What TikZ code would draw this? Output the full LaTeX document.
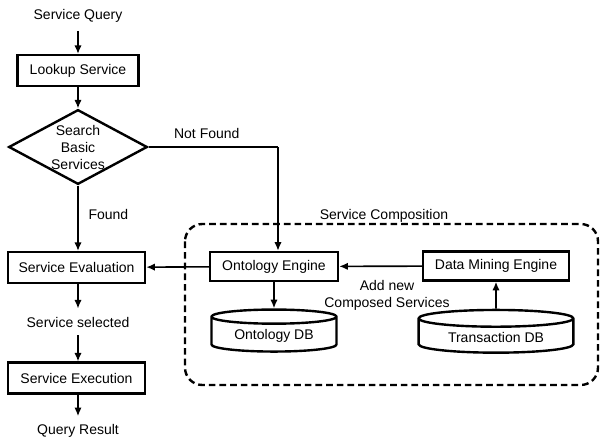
\documentclass[tikz,border=0pt]{standalone}
\usepackage{fontspec}
\setmainfont{Liberation Sans}
\usetikzlibrary{shapes.geometric}
\usetikzlibrary{arrows.meta}

\begin{document}
\begin{tikzpicture}[x=0.75pt, y=-0.75pt,
        every node/.style={font=\fontsize{10.5}{12.75}\selectfont},
        box/.style={draw, line width=1.8pt, minimum height=23pt},
        db/.style={cylinder, shape border rotate=90, draw, line width=1.8pt, aspect=0.16},
        txt/.style={inner sep=6pt},
        arr/.style={-{Latex[length=6.5pt, width=5.5pt]}, line width=1.2pt}]
        \useasboundingbox (0,0) rectangle (601,439);

        % main flow
        \node[txt] (q) at (78,16) {Service Query};
        \node[box, minimum width=90.75pt] (ls) at (78,70.5) {Lookup Service};
        \node[draw, diamond, line width=1.8pt, aspect=1.85, inner sep=0pt, align=center,
              minimum width=104pt, minimum height=56pt] (sbs) at (78,147) {Search\\Basic\\Services};
        \node[box, minimum width=102.75pt] (se) at (76.5,267.5) {Service Evaluation};
        \node[txt] (sel) at (78,322) {Service selected};
        \node[box, minimum width=102.75pt] (sx) at (76.5,378) {Service Execution};
        \node[txt] (qr) at (78,431) {Query Result};

        % service composition
        \draw[line width=1.8pt, dash pattern=on 5pt off 3pt, rounded corners=13pt] (185,224) rectangle (598,385);
        \node (sc) at (384,216) {Service Composition};
        \node[box, minimum width=96pt, minimum height=21.75pt] (oe) at (274,266.5) {Ontology Engine};
        \node[box, minimum width=109.5pt, minimum height=21.75pt] (dme) at (496,266) {Data Mining Engine};
        \node[db, minimum width=93.75pt, minimum height=31.5pt] (odb) at (274,336) {Ontology DB};
        \node[db, minimum width=116pt, minimum height=31pt] (tdb) at (496,337.5) {Transaction DB};
        \node[align=center] (anc) at (387,295) {Add new\\Composed Services};

        \coordinate (nf) at (278,147);

        \draw[arr] (q) -- (ls);
        \draw[arr] (ls) -- (sbs);
        \draw[arr] (sbs) -- (se.north -| sbs) node[pos=0.45, right=4pt] {Found};
        \draw[line width=1.2pt] (sbs.east) -- (nf) node[pos=0.45, above=2pt] {Not Found};
        \draw[arr] (nf) -- (nf |- oe.north);
        \draw[arr] (oe) -- (se);
        \draw[arr] (se.south -| sel) -- (sel);
        \draw[arr] (sel) -- (sx.north -| sel);
        \draw[arr] (sx.south -| qr) -- (qr);
        \draw[arr] (dme) -- (oe);
        \draw[arr] (oe) -- (odb);
        \draw[arr] (tdb) -- (dme);
    \end{tikzpicture}
\end{document}
